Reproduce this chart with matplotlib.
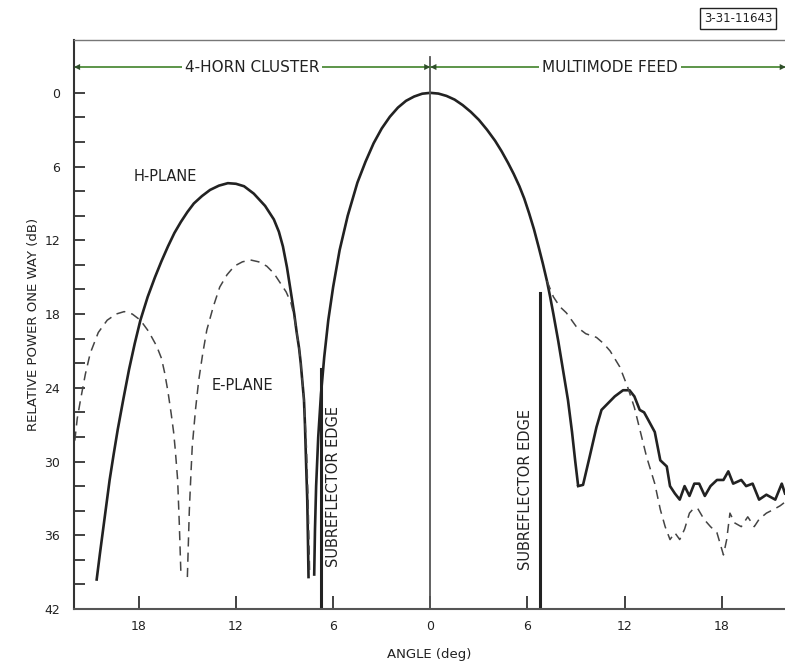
import matplotlib
matplotlib.use("Agg")
import matplotlib.pyplot as plt
import numpy as np

# main beam (solid, both feeds), left null -> peak -> right null
main_ang = [-7.17, -7.12, -7.05, -6.92, -6.75, -6.55, -6.3, -6.0, -5.6, -5.1, -4.5, -4.0,
            -3.5, -3.0, -2.5, -2.0, -1.5, -1.0, -0.5, 0.0, 0.5, 1.0, 1.5, 2.0, 2.5, 3.0,
            3.5, 4.0, 4.4, 4.8, 5.15, 5.5, 5.8, 6.1, 6.4, 6.7, 6.95, 7.2, 7.4, 7.6, 7.9,
            8.2, 8.5, 8.75, 8.95, 9.13]
main_db = [39.3, 35.5, 32.0, 28.0, 24.5, 21.5, 18.5, 15.8, 12.8, 10.0, 7.3, 5.6,
           4.1, 2.9, 1.95, 1.2, 0.65, 0.3, 0.07, 0.0, 0.06, 0.25, 0.55, 1.0, 1.55, 2.2,
           3.0, 3.9, 4.75, 5.7, 6.6, 7.6, 8.6, 9.8, 11.1, 12.6, 13.9, 15.3, 16.6, 18.0, 20.2,
           22.6, 25.0, 27.6, 30.0, 32.0]

# multimode feed, H-plane sidelobe region (solid)
mm_h_ang = [9.13, 9.43, 9.84, 10.26, 10.57, 10.98, 11.39, 11.9, 12.3, 12.6, 12.93, 13.2,
            13.45, 13.86, 14.2, 14.6, 14.8, 15.1, 15.4, 15.7, 16.0, 16.3, 16.6, 16.95,
            17.3, 17.7, 18.1, 18.4, 18.7, 19.2, 19.5, 19.9, 20.3, 20.75, 21.3, 21.7, 21.9]
mm_h_db = [32.0, 31.9, 29.6, 27.2, 25.8, 25.25, 24.7, 24.2, 24.2, 24.7, 25.8, 26.0,
           26.6, 27.6, 29.9, 30.4, 32.0, 32.6, 33.1, 32.0, 32.8, 31.8, 31.8, 32.8,
           32.0, 31.5, 31.5, 30.8, 31.8, 31.5, 32.0, 31.8, 33.1, 32.7, 33.1, 31.8, 32.6]

# multimode feed, E-plane (dashed)
mm_e_ang = [7.2, 7.6, 8.0, 8.4, 9.0, 9.6, 10.26, 10.7, 11.1, 11.7, 12.2, 12.6, 12.9, 13.35,
            13.86, 14.2, 14.5, 14.8, 15.1, 15.4, 15.7, 16.0, 16.2, 16.5, 16.9, 17.3, 17.7,
            18.1, 18.3, 18.5, 18.8, 19.2, 19.6, 20.0, 20.3, 20.75, 21.2, 21.6, 21.9]
mm_e_db = [15.3, 16.6, 17.4, 17.9, 19.0, 19.6, 19.9, 20.4, 21.0, 22.3, 24.0, 25.6, 27.2, 29.6,
           31.8, 33.9, 35.3, 36.35, 35.8, 36.35, 35.5, 34.2, 33.9, 33.8, 34.7, 35.3, 35.8,
           37.6, 36.35, 34.2, 35.0, 35.3, 34.5, 35.3, 34.7, 34.2, 33.9, 33.6, 33.3]

# 4-horn cluster, H-plane lobe (solid)
hc_h_ang = [-20.6, -20.4, -20.2, -20.0, -19.8, -19.55, -19.3, -18.95, -18.6, -18.25, -17.9,
            -17.45, -17.0, -16.6, -16.2, -15.8, -15.4, -15.0, -14.6, -14.1, -13.6, -13.05,
            -12.5, -12.0, -11.5, -10.9, -10.2, -9.66, -9.35, -9.1, -8.85, -8.6, -8.4, -8.25,
            -8.1, -8.0, -7.9, -7.8, -7.74, -7.7, -7.65, -7.6, -7.56, -7.52]
hc_h_db = [39.6, 37.5, 35.5, 33.5, 31.5, 29.4, 27.4, 24.9, 22.5, 20.4, 18.5,
           16.6, 15.0, 13.7, 12.5, 11.4, 10.5, 9.7, 9.0, 8.4, 7.9, 7.55,
           7.35, 7.4, 7.6, 8.2, 9.2, 10.3, 11.3, 12.5, 14.2, 16.3, 18.0, 19.5,
           20.8, 22.0, 23.5, 25.0, 27.0, 28.8, 31.0, 33.0, 36.0, 39.4]

# 4-horn cluster, E-plane outer lobe (dashed)
hc_e1_ang = [-21.95, -21.8, -21.6, -21.3, -21.0, -20.5, -19.95, -19.4, -18.9, -18.4, -17.9,
             -17.4, -16.9, -16.6, -16.4, -16.2, -16.0, -15.85, -15.75, -15.6, -15.5, -15.4]
hc_e1_db = [28.3, 26.5, 25.0, 22.9, 21.2, 19.5, 18.5, 18.0, 17.8, 18.0, 18.5,
            19.4, 20.6, 21.6, 22.8, 24.3, 26.1, 27.6, 29.0, 31.5, 35.0, 39.1]

# 4-horn cluster, E-plane inner lobe (dashed)
hc_e2_ang = [-15.0, -14.88, -14.78, -14.7, -14.5, -14.3, -14.05, -13.8, -13.4, -13.0,
             -12.55, -12.1, -11.6, -11.1, -10.6, -10.1, -9.65, -9.25, -8.9, -8.6, -8.4,
             -8.25, -8.1, -8.0, -7.9, -7.8, -7.72, -7.65, -7.55, -7.45]
hc_e2_db = [39.4, 34.0, 31.0, 28.8, 25.8, 23.4, 21.2, 19.3, 17.4, 15.8,
            14.8, 14.1, 13.75, 13.6, 13.75, 14.1, 14.7, 15.5, 16.2, 17.1, 18.2,
            19.5, 20.8, 22.0, 23.5, 25.0, 27.0, 28.8, 33.0, 39.2]

# subreflector edges: angle, top of line (dB)
edge_ang = [-6.75, 6.75]
edge_top = [22.5, 16.3]

x_ticks = [-18, -12, -6, 0, 6, 12, 18]
y_ticks = [0, 6, 12, 18, 24, 30, 36, 42]

ink = "#222222"
green = "#4f8c3a"

fig = plt.figure(figsize=(7.85, 6.67), dpi=100)
ax = fig.add_axes([74 / 785, 1 - 609 / 667, 1 - 74 / 785, (609 - 40) / 667])

ax.plot(main_ang, main_db, color=ink, lw=1.9, solid_capstyle="butt")
ax.plot(mm_h_ang, mm_h_db, color=ink, lw=1.9)
ax.plot(hc_h_ang, hc_h_db, color=ink, lw=1.9)
for xs, ys in [(mm_e_ang, mm_e_db), (hc_e1_ang, hc_e1_db), (hc_e2_ang, hc_e2_db)]:
    ax.plot(xs, ys, color="#444444", lw=1.1, dashes=(6, 4))

for a, t in zip(edge_ang, edge_top):
    ax.plot([a, a], [t, 42], color=ink, lw=2.2)
ax.text(-5.95, 32.0, "SUBREFLECTOR EDGE", rotation=90, ha="center", va="center",
        fontsize=10.5, color=ink)
ax.text(5.87, 32.3, "SUBREFLECTOR EDGE", rotation=90, ha="center", va="center",
        fontsize=10.5, color=ink)

ax.text(-16.35, 6.8, "H-PLANE", ha="center", va="center", fontsize=10.5, color=ink)
ax.text(-11.6, 23.8, "E-PLANE", ha="center", va="center", fontsize=10.5, color=ink)

# centre line and range arrows
ax.plot([0, 0], [-2.9, 42], color="#555555", lw=1.3, clip_on=False)
ya = -2.1
ax.plot([-22, 21.9], [ya, ya], color=green, lw=1.3, clip_on=False)
for tail, head in [(-20, -22), (-2, 0), (2, 0), (20, 21.95)]:
    ax.annotate("", xy=(head, ya), xytext=(tail, ya), annotation_clip=False,
                arrowprops=dict(arrowstyle="-|>", color="#2f4f2a", lw=0,
                                mutation_scale=11, shrinkA=0, shrinkB=0))
box = dict(facecolor="white", edgecolor="none", pad=2)
ax.text(-11.0, ya, "4-HORN CLUSTER", ha="center", va="center", fontsize=11,
        color=ink, bbox=box)
ax.text(11.1, ya, "MULTIMODE FEED", ha="center", va="center", fontsize=11,
        color=ink, bbox=box)

ax.set_xlim(-22, 21.9)
ax.set_ylim(42, -4.3)
ax.set_xticks(x_ticks)
ax.set_xticklabels([str(abs(v)) for v in x_ticks])
ax.set_yticks(y_ticks)
ax.set_yticks(np.arange(0, 43, 2), minor=True)
ax.tick_params(axis="x", direction="in", length=9.5, width=1.2, pad=8,
               labelsize=9, colors=ink)
ax.tick_params(axis="y", which="both", direction="in", length=8, width=1.2, pad=10,
               labelsize=9, colors=ink)
ax.spines["right"].set_visible(False)
ax.spines["left"].set_color("#333333")
ax.spines["left"].set_linewidth(1.5)
ax.spines["bottom"].set_color("#555555")
ax.spines["bottom"].set_linewidth(1.5)
ax.spines["top"].set_color("#777777")
ax.spines["top"].set_linewidth(1.0)

ax.set_xlabel("ANGLE (deg)", fontsize=9.5, color=ink, labelpad=11)
ax.set_ylabel("RELATIVE POWER ONE WAY (dB)", fontsize=9.5, color=ink, labelpad=3)

fig.text(0.94, 0.972, "3-31-11643", ha="center", va="center", fontsize=8.5, color=ink,
         bbox=dict(facecolor="white", edgecolor=ink, lw=1.0, pad=3))

fig.savefig("out.png", dpi=100)
